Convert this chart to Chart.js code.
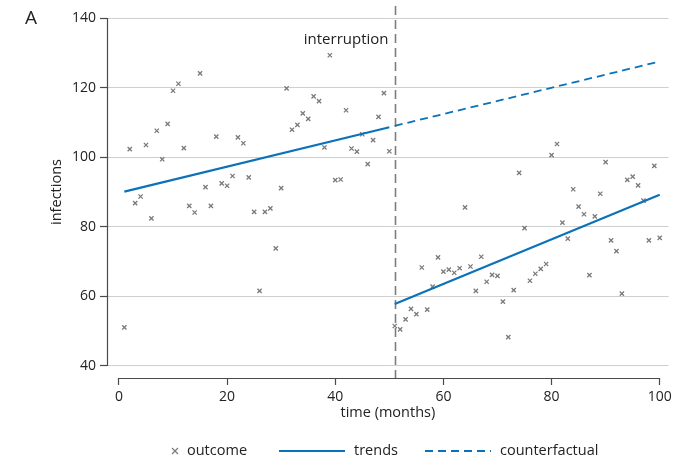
<!DOCTYPE html>
<html>
<head>
<meta charset="utf-8">
<title>Interrupted time series</title>
<script src="https://cdn.jsdelivr.net/npm/chart.js@4/dist/chart.umd.min.js"></script>
<style>
  html, body { margin: 0; padding: 0; background: #fff; }
  #wrap { position: relative; width: 674px; height: 461px; }
</style>
</head>
<body>
<div id="wrap"><canvas id="itsChart" width="674" height="461"></canvas></div>
<script>
// Monthly infections, interruption at month 51
const months = [
  1, 2, 3, 4, 5, 6, 7, 8, 9, 10, 11, 12, 13, 14, 15, 16, 17, 18, 19, 20,
  21, 22, 23, 24, 25, 26, 27, 28, 29, 30, 31, 32, 33, 34, 35, 36, 37, 38, 39, 40,
  41, 42, 43, 44, 45, 46, 47, 48, 49, 50, 51, 52, 53, 54, 55, 56, 57, 58, 59, 60,
  61, 62, 63, 64, 65, 66, 67, 68, 69, 70, 71, 72, 73, 74, 75, 76, 77, 78, 79, 80,
  81, 82, 83, 84, 85, 86, 87, 88, 89, 90, 91, 92, 93, 94, 95, 96, 97, 98, 99, 100
];
const outcome = [
  51.1, 102.3, 86.8, 88.7, 103.5, 82.4, 107.6, 99.4, 109.6, 119.1,
  121.1, 102.6, 86.0, 84.1, 124.1, 91.4, 86.0, 105.9, 92.5, 91.8,
  94.6, 105.7, 104.0, 94.2, 84.3, 61.6, 84.3, 85.3, 73.8, 91.1,
  119.8, 107.9, 109.3, 112.6, 111.0, 117.5, 116.1, 102.8, 129.3, 93.4,
  93.6, 113.5, 102.5, 101.6, 106.6, 98.0, 104.9, 111.6, 118.4, 101.7,
  51.5, 50.5, 53.4, 56.4, 54.9, 68.3, 56.2, 62.8, 71.2, 67.1,
  67.7, 66.8, 68.1, 85.6, 68.6, 61.6, 71.4, 64.2, 66.2, 65.9,
  58.5, 48.3, 61.8, 95.5, 79.6, 64.5, 66.5, 67.9, 69.3, 100.6,
  103.8, 81.2, 76.6, 90.8, 85.8, 83.6, 66.1, 83.0, 89.5, 98.6,
  76.1, 73.0, 60.8, 93.5, 94.4, 91.9, 87.5, 76.1, 97.5, 76.8
];

// fitted segments (start and end month)
const preTrendX = [1, 50];
const preTrendY = [90.1, 108.6];
const postTrendX = [51, 100];
const postTrendY = [57.8, 89.2];
const counterX = [51, 100];
const counterY = [109.0, 127.5];

const interruptionMonth = 51;
const xTicks = [0, 20, 40, 60, 80, 100];
const yTicks = [40, 60, 80, 100, 120, 140];

const BLUE = '#0b72b9';
const MARKER = '#7a7a7a';
const AXIS = '#4a4a4a';
const TEXT = '#222';
const FONT = "'Open Sans', 'Noto Sans', sans-serif";

function pairs(xs, ys) {
  return xs.map((x, i) => ({ x: x, y: ys[i] }));
}

// axis lines offset from the data region, plus the interruption marker
const frame = {
  id: 'frame',
  beforeDatasetsDraw(chart) {
    const { ctx, chartArea, scales } = chart;
    const x = scales.x;
    ctx.save();
    // interruption line
    const xi = Math.round(x.getPixelForValue(interruptionMonth)) + 0.5;
    ctx.strokeStyle = '#7d7d7d';
    ctx.lineWidth = 1.6;
    ctx.setLineDash([9, 5]);
    ctx.beginPath();
    ctx.moveTo(xi, chartArea.top);
    ctx.lineTo(xi, chartArea.bottom);
    ctx.stroke();
    ctx.setLineDash([]);
    ctx.fillStyle = TEXT;
    ctx.font = '15px ' + FONT;
    ctx.textAlign = 'right';
    ctx.textBaseline = 'middle';
    ctx.fillText('interruption', xi - 7, 40);
    ctx.restore();
  },
  afterDraw(chart) {
    const { ctx, chartArea, scales } = chart;
    const x = scales.x, y = scales.y;
    ctx.save();
    ctx.strokeStyle = AXIS;
    ctx.lineWidth = 1.2;
    ctx.beginPath();
    const ax = chartArea.left + 0.5;
    ctx.moveTo(ax, y.getPixelForValue(yTicks[yTicks.length - 1]));
    ctx.lineTo(ax, y.getPixelForValue(yTicks[0]));
    const ay = chartArea.bottom + 0.5;
    ctx.moveTo(x.getPixelForValue(xTicks[0]), ay);
    ctx.lineTo(x.getPixelForValue(xTicks[xTicks.length - 1]), ay);
    ctx.stroke();

    // panel letter
    ctx.fillStyle = TEXT;
    ctx.font = '19px ' + FONT;
    ctx.textAlign = 'left';
    ctx.textBaseline = 'middle';
    ctx.fillText('A', 25, 19);

    // legend row
    const ly = 451;
    ctx.font = '14.5px ' + FONT;
    ctx.textBaseline = 'middle';
    ctx.strokeStyle = MARKER;
    ctx.lineWidth = 1.2;
    ctx.beginPath();
    ctx.moveTo(172, ly - 3); ctx.lineTo(178, ly + 3);
    ctx.moveTo(178, ly - 3); ctx.lineTo(172, ly + 3);
    ctx.stroke();
    ctx.fillText('outcome', 187, ly);

    ctx.strokeStyle = BLUE;
    ctx.lineWidth = 2.2;
    ctx.beginPath();
    ctx.moveTo(279, ly); ctx.lineTo(345, ly);
    ctx.stroke();
    ctx.fillText('trends', 354, ly);

    ctx.lineWidth = 1.8;
    ctx.setLineDash([8, 5]);
    ctx.beginPath();
    ctx.moveTo(425, ly); ctx.lineTo(491, ly);
    ctx.stroke();
    ctx.setLineDash([]);
    ctx.fillText('counterfactual', 500, ly);
    ctx.restore();
  }
};

function renderChart() {
  const ctx = document.getElementById('itsChart').getContext('2d');
  new Chart(ctx, {
    type: 'scatter',
    data: {
      datasets: [
        {
          label: 'outcome',
          data: pairs(months, outcome),
          pointStyle: 'crossRot',
          pointRadius: 3,
          borderColor: MARKER,
          backgroundColor: MARKER,
          pointBorderWidth: 1.3,
          showLine: false,
          order: 3
        },
        {
          label: 'trends',
          data: pairs(preTrendX, preTrendY),
          showLine: true,
          borderColor: BLUE,
          borderWidth: 2.2,
          pointRadius: 0,
          order: 1
        },
        {
          label: 'trends (post)',
          data: pairs(postTrendX, postTrendY),
          showLine: true,
          borderColor: BLUE,
          borderWidth: 2.2,
          pointRadius: 0,
          order: 1
        },
        {
          label: 'counterfactual',
          data: pairs(counterX, counterY),
          showLine: true,
          borderColor: BLUE,
          borderWidth: 1.8,
          borderDash: [8, 5],
          pointRadius: 0,
          order: 2
        }
      ]
    },
    options: {
      responsive: false,
      animation: false,
      layout: { padding: { left: 0, right: 4, top: 6, bottom: 30 } },
      plugins: { legend: { display: false }, tooltip: { enabled: false } },
      scales: {
        x: {
          type: 'linear',
          min: -2.21,
          max: 101.66,
          afterBuildTicks: s => { s.ticks = xTicks.map(v => ({ value: v })); },
          afterFit: s => { s.height = 53; s.paddingLeft = 0; s.paddingRight = 0; },
          border: { display: false },
          grid: { drawOnChartArea: false, drawTicks: true, tickLength: 7, tickColor: AXIS, tickWidth: 1.2 },
          ticks: { color: TEXT, font: { family: FONT, size: 14 }, padding: 4, maxRotation: 0 },
          title: { display: true, text: 'time (months)', color: TEXT, font: { family: FONT, size: 14.5 }, padding: { top: 0, bottom: 9 } }
        },
        y: {
          type: 'linear',
          min: 36.55,
          max: 143.45,
          afterBuildTicks: s => { s.ticks = yTicks.map(v => ({ value: v })); },
          afterFit: s => { s.width = 107; s.paddingTop = 0; s.paddingBottom = 0; },
          border: { display: false },
          grid: {
            color: '#cfcfcf',
            lineWidth: 1,
            borderDash: [1, 4],
            tickBorderDash: [],
            tickLength: 7,
            tickColor: AXIS,
            tickWidth: 1.2
          },
          ticks: { color: TEXT, font: { family: FONT, size: 14 }, padding: 4 },
          title: { display: true, text: 'infections', color: TEXT, font: { family: FONT, size: 14.5 }, padding: { top: 48, bottom: 0 } }
        }
      }
    },
    plugins: [frame]
  });
}

renderChart();
</script>
</body>
</html>
